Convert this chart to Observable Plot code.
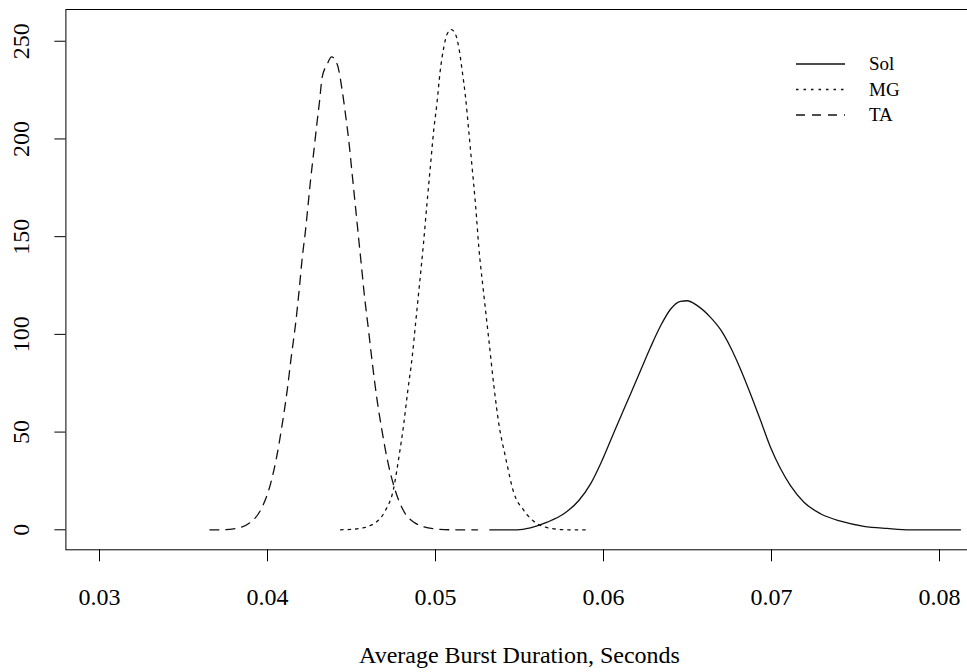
<!DOCTYPE html>
<html><head><meta charset="utf-8">
<script src="https://cdn.jsdelivr.net/npm/d3@7"></script>
<script src="https://cdn.jsdelivr.net/npm/@observablehq/plot@0.6"></script>
<style>
html,body{margin:0;padding:0;background:#fff;overflow:hidden;}
#wrap{position:relative;width:967px;height:672px;overflow:hidden;}
#wrap svg{display:block;max-width:none !important;}
#legend{position:absolute;left:0;top:0;}
</style></head><body><div id="wrap"></div>
<script>
const seriesNames = ["Sol", "MG", "TA"];
const seriesDash = [null, "2.5,5", "9,7"];

const solX = [0.05323,0.05486,0.05565,0.05665,0.05764,0.05853,0.05923,0.05982,0.06042,0.06101,0.06161,0.0622,0.0628,0.0634,0.064,0.06458,0.06498,0.06558,0.06637,0.06696,0.06756,0.06815,0.06875,0.06935,0.06994,0.07054,0.07113,0.07193,0.07292,0.07411,0.0755,0.07689,0.07827,0.08125];
const solY = [0,0,1,3.9,8.2,15,23.5,33.7,45.7,57.6,69.5,81.4,93.4,104.4,113,116.9,117.2,114.7,108.7,102.5,93.4,82.3,69.5,55.9,42.2,31.2,22.6,14.1,8.2,4.4,1.8,0.7,0,0];

const mgX = [0.04435,0.04534,0.04633,0.04702,0.04748,0.04782,0.04811,0.04835,0.04861,0.04881,0.04901,0.04929,0.04949,0.04969,0.04989,0.05008,0.05028,0.05049,0.05069,0.05093,0.05119,0.05139,0.05159,0.05179,0.05198,0.05218,0.05238,0.05258,0.05288,0.05318,0.05347,0.05377,0.05417,0.05466,0.05526,0.05605,0.05704,0.05784,0.05899];
const mgY = [0,0.5,3.1,9.9,20.1,37.1,54.2,71.2,88.2,105.3,122.4,147,166.7,185.4,204.1,217.8,234.8,246.7,253.6,256,253.6,246.7,234.8,221.2,204.1,185.4,166.7,144.5,120,96.8,74,54.2,37.1,19,9.9,3.1,0.5,0,0];

const taX = [0.03657,0.0372,0.03799,0.03899,0.03958,0.04018,0.04054,0.04088,0.04117,0.04141,0.04167,0.0419,0.04207,0.04226,0.0424,0.04256,0.04276,0.04296,0.0431,0.04325,0.04355,0.04381,0.04415,0.04445,0.04464,0.04484,0.04504,0.04524,0.04544,0.04564,0.04573,0.04603,0.04623,0.04653,0.04683,0.04713,0.04752,0.04802,0.04871,0.0499,0.05109,0.0525];
const taY = [0,0,0.5,3.9,9.9,23.5,37.1,54.2,71.2,88.2,105.3,124,139.4,153,164.9,178.6,193.9,209.3,219.5,231.4,238.2,242,238.2,224.6,212.7,199,182,165,147.9,130.9,123,101,86,66,50,36,22.5,11,3.9,0.5,0,0];

const xTicks = [0.03, 0.04, 0.05, 0.06, 0.07, 0.08];
const yTicks = [0, 50, 100, 150, 200, 250];
const xLabel = "Average Burst Duration, Seconds";

const seriesData = [[solX, solY], [mgX, mgY], [taX, taY]];
const rows = [];
seriesData.forEach(([xs, ys], i) => xs.forEach((x, j) => rows.push({series: seriesNames[i], x, y: ys[j]})));

const font = "'Liberation Serif', 'Times New Roman', serif";

const chart = Plot.plot({
  width: 980, height: 672,
  marginLeft: 65.4, marginRight: 7.4, marginTop: 9, marginBottom: 122.7,
  style: {fontFamily: font, background: "#fff", color: "#000", overflow: "visible", maxWidth: "none"},
  x: {domain: [0.028, 0.082]},
  y: {domain: [-10.24, 266.24]},
  marks: [
    Plot.frame({stroke: "#000", strokeWidth: 1}),
    Plot.axisX({ticks: xTicks, tickSize: 12, tickPadding: 26, tickFormat: d => d.toFixed(2), fontSize: 24,
      label: xLabel, labelAnchor: "center", labelOffset: 113, labelArrow: "none"}),
    Plot.axisY({ticks: yTicks, tickSize: 11, tickPadding: 26, tickRotate: -90, fontSize: 24, label: null}),
    ...seriesNames.map((s, i) => Plot.line(rows.filter(r => r.series === s), {
      x: "x", y: "y", curve: "monotone-x", stroke: "#111", strokeWidth: 1.3,
      strokeDasharray: seriesDash[i] || undefined
    }))
  ]
});
const wrap = document.getElementById("wrap");
wrap.appendChild(chart);

// legend overlay
const lg = d3.select(wrap).append("svg").attr("id", "legend").attr("width", 967).attr("height", 160);
seriesNames.forEach((s, i) => {
  const cy = 64 + i * 25.5;
  lg.append("line").attr("x1", 796).attr("x2", 845).attr("y1", cy).attr("y2", cy)
    .attr("stroke", "#111").attr("stroke-width", 1.3)
    .attr("stroke-dasharray", seriesDash[i]);
  lg.append("text").attr("x", 869).attr("y", cy).attr("dy", "0.33em")
    .attr("font-family", font).attr("font-size", 19).attr("fill", "#000").text(s);
});
</script></body></html>
